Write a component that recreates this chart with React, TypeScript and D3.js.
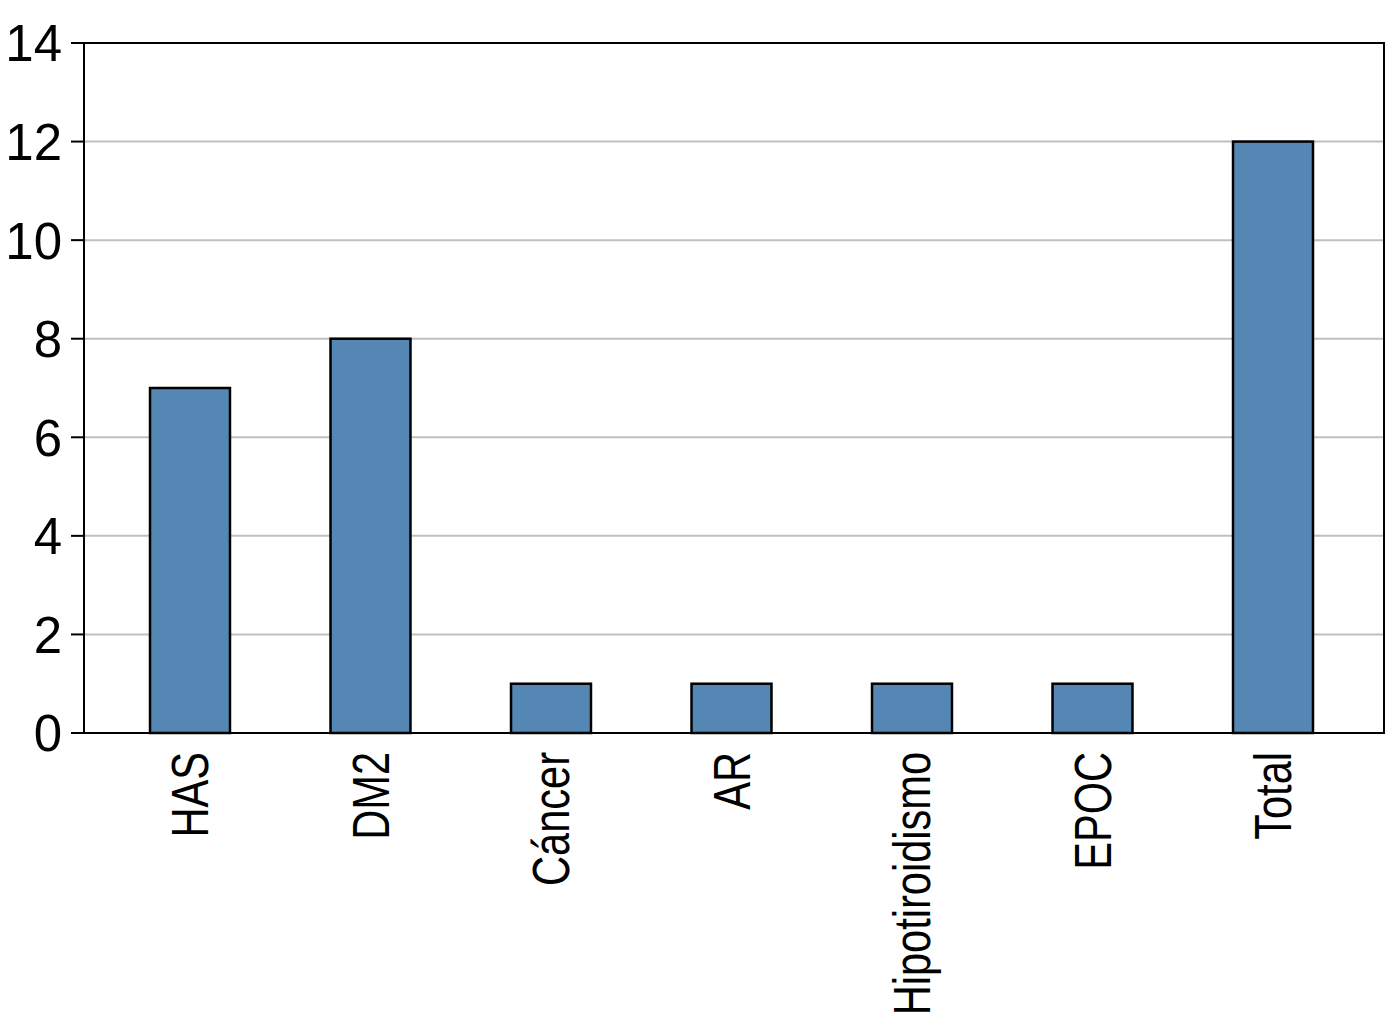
import React, { useEffect, useRef } from "react";
import * as d3 from "d3";

const categories: string[] = ["HAS", "DM2", "Cáncer", "AR", "Hipotiroidismo", "EPOC", "Total"];
const values: number[] = [7, 8, 1, 1, 1, 1, 12];
const yTicks: number[] = [0, 2, 4, 6, 8, 10, 12, 14];

const W = 1386;
const H = 1024;
const M = { left: 84, right: 1384, top: 43, bottom: 733 };

export default function App() {
  const ref = useRef<SVGSVGElement>(null);

  useEffect(() => {
    const svg = d3.select(ref.current);
    svg.selectAll("*").remove();

    const y = d3.scaleLinear().domain([0, 14]).range([M.bottom, M.top]);
    const x = d3
      .scaleBand<string>()
      .domain(categories)
      .range([99.75, 1363.25])
      .paddingInner(0.557)
      .paddingOuter(0.2785);

    // gridlines
    svg
      .append("g")
      .selectAll("line")
      .data(yTicks.filter((t) => t > 0 && t < 14))
      .join("line")
      .attr("x1", M.left)
      .attr("x2", M.right)
      .attr("y1", (d) => y(d))
      .attr("y2", (d) => y(d))
      .attr("stroke", "#bfbfbf")
      .attr("stroke-width", 2);

    // bars
    svg
      .append("g")
      .selectAll("rect")
      .data(categories)
      .join("rect")
      .attr("x", (d) => x(d)!)
      .attr("width", x.bandwidth())
      .attr("y", (d, i) => y(values[i]))
      .attr("height", (d, i) => y(0) - y(values[i]))
      .attr("fill", "#5587b4")
      .attr("stroke", "#000")
      .attr("stroke-width", 2.5);

    // frame
    svg
      .append("rect")
      .attr("x", M.left)
      .attr("y", M.top)
      .attr("width", M.right - M.left)
      .attr("height", M.bottom - M.top)
      .attr("fill", "none")
      .attr("stroke", "#000")
      .attr("stroke-width", 2);

    // y ticks
    const yg = svg.append("g");
    yg.selectAll("line")
      .data(yTicks)
      .join("line")
      .attr("x1", 71)
      .attr("x2", M.left)
      .attr("y1", (d) => y(d))
      .attr("y2", (d) => y(d))
      .attr("stroke", "#000")
      .attr("stroke-width", 2);
    yg.selectAll("text")
      .data(yTicks)
      .join("text")
      .attr("x", 62)
      .attr("y", (d) => y(d))
      .attr("dy", "0.36em")
      .attr("text-anchor", "end")
      .attr("font-family", "'Liberation Sans', Arial, sans-serif")
      .attr("font-size", 51)
      .attr("fill", "#000")
      .text((d) => String(d));

    // x labels
    svg
      .append("g")
      .selectAll("text")
      .data(categories)
      .join("text")
      .attr(
        "transform",
        (d) => `translate(${x(d)! + x.bandwidth() / 2},752) rotate(-90) scale(0.815,1)`
      )
      .attr("dy", "0.36em")
      .attr("text-anchor", "end")
      .attr("font-family", "'Liberation Sans', Arial, sans-serif")
      .attr("font-size", 51)
      .attr("fill", "#000")
      .text((d) => d);
  }, []);

  return (
    <svg
      ref={ref}
      width={W}
      height={H}
      style={{ position: "absolute", left: 0, top: 0, background: "#fff" }}
    />
  );
}
